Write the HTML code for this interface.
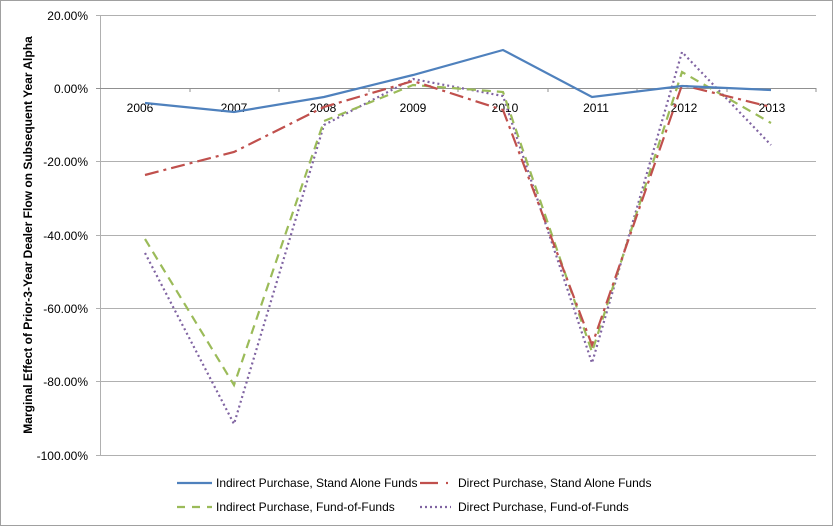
<!DOCTYPE html>
<html><head><style>
body{margin:0;background:#fff;}
svg{display:block;font-family:"Liberation Sans",sans-serif;}
</style></head><body>
<svg width="833" height="526" viewBox="0 0 833 526">
<rect x="0.5" y="0.5" width="832" height="525" fill="#fff" stroke="#a0a0a0"/>
<g stroke="#b0b0b0" stroke-width="1">
<line x1="96" y1="15.5" x2="816" y2="15.5"/>
<line x1="96" y1="161.5" x2="816" y2="161.5"/>
<line x1="96" y1="235.5" x2="816" y2="235.5"/>
<line x1="96" y1="308.5" x2="816" y2="308.5"/>
<line x1="96" y1="381.5" x2="816" y2="381.5"/>
<line x1="96" y1="455.5" x2="816" y2="455.5"/>
<line x1="100.5" y1="15" x2="100.5" y2="456"/>
<line x1="96" y1="88.5" x2="816" y2="88.5" stroke="#909090"/>
</g>
<g stroke="#909090">
<line x1="190" y1="88" x2="190" y2="92"/><line x1="279" y1="88" x2="279" y2="92"/><line x1="369" y1="88" x2="369" y2="92"/><line x1="458" y1="88" x2="458" y2="92"/><line x1="548" y1="88" x2="548" y2="92"/><line x1="637" y1="88" x2="637" y2="92"/><line x1="727" y1="88" x2="727" y2="92"/><line x1="816" y1="88" x2="816" y2="92"/>
</g>
<g font-size="12" fill="#000" text-anchor="end">
<text x="88" y="20">20.00%</text><text x="88" y="93">0.00%</text><text x="88" y="166">-20.00%</text><text x="88" y="240">-40.00%</text><text x="88" y="313">-60.00%</text><text x="88" y="386">-80.00%</text><text x="88" y="460">-100.00%</text>
</g>
<g font-size="12" fill="#000" text-anchor="middle">
<text x="140" y="112">2006</text><text x="234" y="112">2007</text><text x="323" y="112">2008</text><text x="413" y="112">2009</text><text x="505" y="112">2010</text><text x="596" y="112">2011</text><text x="684" y="112">2012</text><text x="772" y="112">2013</text>
</g>
<text transform="translate(32,235) rotate(-90)" font-size="12" font-weight="bold" text-anchor="middle">Marginal Effect of Prior-3-Year Dealer Flow on Subsequent Year Alpha</text>
<g fill="none" stroke-width="2.2">
<polyline stroke="#8064a2" stroke-dasharray="2,3" points="145,253 234,424 324,125 413,79 503,96 592,363 682,52 771,145"/>
<polyline stroke="#9bbb59" stroke-dasharray="9,6" points="145,239 234,385 324,121 413,85 503,92 592,352 682,72 771,123"/>
<polyline stroke="#c0504d" stroke-dasharray="14,5,3,5" points="145,175 234,152 324,107 413,81 503,110 592,345 682,85 771,107"/>
<polyline stroke="#4f81bd" points="145,103 234,112 324,97 413,75 503,50 592,97 682,86 771,90"/>
</g>
<g stroke-width="2.2">
<line x1="177" y1="483" x2="212" y2="483" stroke="#4f81bd"/>
<line x1="420" y1="483" x2="438" y2="483" stroke="#c0504d"/><line x1="446" y1="483" x2="448" y2="483" stroke="#c0504d"/>
<line x1="177" y1="507" x2="212" y2="507" stroke="#9bbb59" stroke-dasharray="8,7"/>
<line x1="420" y1="507" x2="451" y2="507" stroke="#8064a2" stroke-dasharray="2,3"/>
</g>
<g font-size="12" fill="#000">
<text x="216" y="487">Indirect Purchase, Stand Alone Funds</text>
<text x="458" y="487">Direct Purchase, Stand Alone Funds</text>
<text x="216" y="511">Indirect Purchase, Fund-of-Funds</text>
<text x="458" y="511">Direct Purchase, Fund-of-Funds</text>
</g>
</svg>
</body></html>
